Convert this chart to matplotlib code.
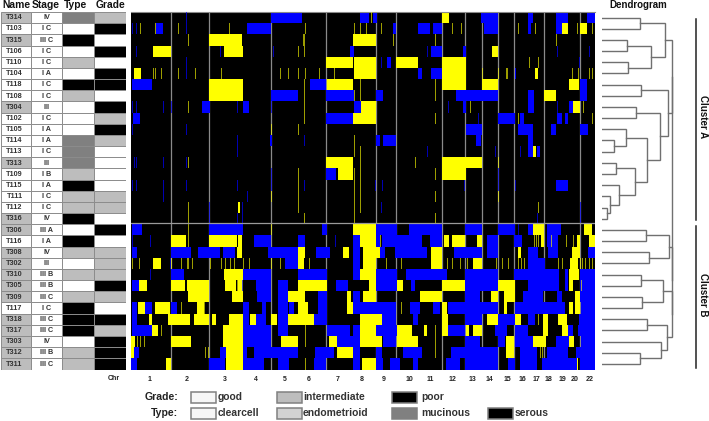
import matplotlib
matplotlib.use("Agg")
import matplotlib.pyplot as plt
from matplotlib.patches import Rectangle

plt.rcParams["font.family"] = ["Liberation Sans", "DejaVu Sans"]

W, H = 709, 421

NAMES = ["T314", "T103", "T315", "T106", "T110", "T104", "T118", "T108", "T304", "T102", "T105",
         "T114", "T113", "T313", "T109", "T115", "T111", "T112", "T316", "T306", "T116", "T308",
         "T302", "T310", "T305", "T309", "T117", "T318", "T317", "T303", "T312", "T311"]
STAGES = ["IV", "I C", "III C", "I C", "I C", "I A", "I C", "I C", "III", "I C", "I A",
          "I A", "I C", "III", "I B", "I A", "I C", "I C", "IV", "III A", "I A", "IV",
          "III", "III B", "III B", "III C", "I C", "III C", "III C", "IV", "III B", "III C"]
NAME_SHADED = ["T314", "T315", "T304", "T313", "T316", "T306", "T308", "T302", "T310", "T305",
               "T309", "T318", "T317", "T303", "T312", "T311"]
TYPES = ["mucinous", "clearcell", "serous", "clearcell", "endometrioid", "clearcell", "serous",
         "endometrioid", "clearcell", "clearcell", "clearcell", "mucinous", "mucinous", "mucinous",
         "endometrioid", "serous", "endometrioid", "endometrioid", "serous", "clearcell", "serous",
         "endometrioid", "clearcell", "endometrioid", "clearcell", "endometrioid", "serous", "serous",
         "serous", "clearcell", "endometrioid", "endometrioid"]
GRADES = ["intermediate", "poor", "good", "poor", "good", "poor", "poor", "good", "poor",
          "intermediate", "poor", "intermediate", "good", "good", "good", "good", "intermediate",
          "intermediate", "good", "poor", "good", "intermediate", "intermediate", "intermediate",
          "poor", "intermediate", "good", "poor", "intermediate", "poor", "poor", "poor"]

TYPE_COLORS = {"clearcell": "#ffffff", "endometrioid": "#bdbdbd", "mucinous": "#808080", "serous": "#000000"}
GRADE_COLORS = {"good": "#ffffff", "intermediate": "#bdbdbd", "poor": "#000000"}
TYPE_KEY_COLORS = {"clearcell": "#f6f6f6", "endometrioid": "#d2d2d2", "mucinous": "#808080", "serous": "#000000"}
GRADE_KEY_COLORS = {"good": "#f6f6f6", "intermediate": "#bdbdbd", "poor": "#000000"}

CHR_LABELS = ["1", "2", "3", "4", "5", "6", "7", "8", "9", "10", "11", "12", "13", "14", "15",
              "16", "17", "18", "19", "20", "22"]
CHR_POS = [18, 56, 94, 125, 154, 178, 207, 231, 253, 278, 299, 322, 341, 358, 376, 391, 405, 418, 431, 444, 459]
CHR_LINES = [40, 78, 140, 195, 245, 265, 311, 334, 351, 367, 383, 413, 449]

# genome segments per sample (start, end)
GAINS = [
    [(311, 318)],
    [(25, 25), (431, 437), (449, 456)],
    [(78, 111), (222, 245)],
    [(22, 40), (93, 112), (361, 367)],
    [(195, 222), (223, 245), (265, 287), (311, 335)],
    [(3, 10), (223, 245), (311, 335), (404, 407)],
    [(78, 112), (196, 222), (311, 335), (351, 367), (438, 448)],
    [(78, 112), (413, 425)],
    [(230, 245), (442, 449)],
    [(222, 245)],
    [],
    [],
    [(402, 405)],
    [(195, 222), (311, 351)],
    [(207, 222), (311, 335)],
    [],
    [],
    [(107, 109)],
    [],
    [(222, 245), (402, 413), (453, 461)],
    [(40, 55), (78, 106), (107, 111), (229, 245), (313, 318), (321, 334), (346, 351), (410, 413), (446, 449), (458, 464)],
    [(106, 111), (167, 174), (212, 218), (232, 249), (300, 311), (441, 449), (387, 390)],
    [(22, 30), (167, 173), (232, 245), (300, 311), (342, 351), (439, 447)],
    [(93, 112), (229, 245), (438, 448)],
    [(8, 16), (40, 54), (56, 78), (94, 105), (107, 112), (167, 196), (238, 245), (266, 272), (311, 334), (367, 384), (438, 442)],
    [(57, 78), (101, 112), (157, 174), (216, 220), (232, 245), (289, 311), (360, 367), (373, 384), (444, 449)],
    [(7, 14), (24, 39), (66, 73), (167, 177), (216, 222), (311, 316), (373, 376), (438, 442), (444, 449)],
    [(18, 21), (37, 59), (63, 78), (81, 85), (98, 112), (119, 125), (140, 146), (157, 183), (229, 251), (311, 317), (356, 367), (384, 390), (412, 417), (427, 436)],
    [(21, 27), (92, 112), (229, 245), (266, 281), (293, 296), (311, 317), (335, 338), (342, 351), (412, 417), (431, 437)],
    [(0, 4), (40, 60), (92, 112), (150, 167), (198, 206), (229, 251), (266, 287), (375, 383), (402, 415), (438, 443)],
    [(0, 3), (95, 112), (206, 222), (375, 383)],
    [(35, 40), (95, 112), (231, 245), (445, 447)],
]
LOSSES = [
    [(140, 171), (229, 238), (242, 246), (350, 367), (397, 402), (425, 437), (456, 464)],
    [(25, 32), (116, 140), (262, 265), (287, 299), (302, 311), (353, 367), (397, 400), (425, 431)],
    [],
    [(219, 223), (300, 311), (332, 335)],
    [(256, 260)],
    [(287, 291), (300, 311), (384, 385)],
    [(1, 21), (179, 195), (449, 456)],
    [(140, 167), (195, 223), (245, 252), (325, 367), (397, 403), (449, 456)],
    [(71, 79), (112, 118), (223, 230), (332, 335), (397, 403), (438, 442)],
    [(2, 9), (195, 222), (367, 384), (389, 393), (426, 431), (434, 437)],
    [(335, 351), (387, 402), (420, 425), (449, 457)],
    [(139, 141), (245, 249), (252, 265), (345, 350), (397, 402)],
    [(397, 402), (406, 409)],
    [],
    [(195, 205)],
    [(425, 437)],
    [],
    [],
    [],
    [(1, 11), (78, 112), (191, 196), (245, 266), (278, 311), (334, 351), (367, 384), (397, 402), (416, 430)],
    [(123, 140), (167, 174), (222, 229), (245, 249), (251, 291), (299, 311), (356, 367), (383, 391), (416, 427)],
    [(1, 6), (40, 60), (67, 89), (92, 104), (137, 167), (185, 199), (222, 229), (249, 254), (264, 296), (323, 351), (356, 367), (397, 407), (417, 427), (457, 464)],
    [(154, 167), (222, 229), (397, 414)],
    [(40, 53), (112, 140), (167, 196), (222, 229), (245, 266), (275, 316), (334, 367), (383, 428), (434, 437), (449, 464)],
    [(1, 8), (125, 140), (147, 157), (205, 217), (245, 266), (280, 284), (334, 367), (397, 428), (434, 437), (449, 464)],
    [(126, 140), (147, 157), (187, 196), (222, 229), (334, 349), (392, 412), (426, 431), (449, 464)],
    [(1, 6), (14, 21), (40, 46), (112, 118), (131, 135), (147, 157), (158, 163), (187, 196), (222, 245), (245, 265), (279, 289), (302, 309), (317, 367), (384, 434), (450, 464)],
    [(1, 6), (112, 118), (125, 135), (147, 157), (183, 196), (251, 265), (282, 287), (334, 351), (367, 384), (397, 404), (448, 464)],
    [(1, 21), (112, 140), (147, 157), (196, 219), (222, 229), (245, 266), (317, 334), (364, 376), (384, 397), (437, 442), (447, 464)],
    [(206, 222), (112, 140), (222, 229), (252, 265), (334, 349), (367, 374), (384, 402), (425, 438), (450, 464)],
    [(3, 8), (89, 95), (112, 116), (123, 167), (184, 203), (222, 229), (245, 251), (272, 291), (320, 367), (389, 406), (416, 437), (445, 464)],
    [(0, 6), (78, 94), (112, 133), (147, 158), (183, 195), (222, 229), (245, 252), (259, 269), (282, 287), (315, 329), (334, 367), (377, 384), (389, 406), (411, 446), (449, 464)],
]
THIN_GAINS = [
    [240],
    [9, 24, 47, 98, 174, 223, 229, 235, 250, 321, 330, 387, 404, 446, 461],
    [57, 172, 173, 262, 304, 425],
    [167, 173],
    [398, 407],
    [22, 24, 30, 47, 64, 90, 149, 157, 167, 174, 188, 203, 351, 367, 375, 376, 441, 447, 458, 461],
    [173, 229, 304],
    [173, 223, 229, 304],
    [57, 173, 339, 452],
    [173, 304, 387, 461],
    [140, 167],
    [223],
    [223, 229],
    [57, 229, 284, 367],
    [167, 223, 229, 304],
    [167, 223, 229],
    [140, 167, 223, 229, 304, 367],
    [57, 167, 223, 229, 407],
    [57, 173, 223, 304],
    [57, 140, 457],
    [57, 249, 313, 317, 407, 403, 405, 420, 435, 442],
    [304],
    [1, 8, 40, 50, 56, 57, 61, 79, 90, 94, 99, 103, 112, 118, 140, 149, 178, 255, 270, 316, 321, 329, 336, 365, 371, 377, 387, 390, 393, 427, 431, 449, 451, 454, 458, 461],
    [],
    [106, 450],
    [],
    [50, 73, 270],
    [407],
    [30, 174, 304],
    [6, 9, 13, 174, 304],
    [74, 77, 304, 409, 411],
    [174],
]
THIN_LOSSES = [
    [55],
    [1, 5, 55],
    [],
    [5, 89, 142, 296, 426, 458],
    [55, 250, 448],
    [55],
    [],
    [],
    [1, 5, 32, 40, 106, 140, 317, 426],
    [347],
    [1, 55],
    [106, 173],
    [106, 296, 364, 389],
    [3, 5, 32, 55],
    [140, 367],
    [1, 5, 32, 55, 106, 140, 173, 244, 251, 333, 367, 384],
    [32, 116],
    [78, 111, 250, 449],
    [78, 106, 111, 406, 449],
    [387],
    [1, 19, 204],
    [],
    [39],
    [19],
    [111],
    [],
    [],
    [],
    [],
    [],
    [],
    [],
]

# (node, child a, child b, height): leaves are row numbers, internal nodes are named
TREE = [
    ("a1", 0, 1, 38), ("a2", 2, 3, 25.5), ("a3", 4, 5, 26), ("a4", "a2", "a3", 49), ("a5", "a1", "a4", 63),
    ("a6", 6, 7, 39.5), ("a7", 8, 9, 34), ("a8", 11, 12, 12.5), ("a9", 10, "a8", 24), ("a10", 13, 14, 14),
    ("a11", 17, 18, 5.5), ("a12", 16, "a11", 8), ("a13", 15, "a12", 17), ("a14", "a10", "a13", 33),
    ("a15", "a9", "a14", 45), ("a16", "a7", "a15", 58), ("a17", "a6", "a16", 66), ("A", "a5", "a17", 70.5),
    ("b1", 19, 20, 44), ("b2", 21, 22, 47.5), ("b3", "b1", "b2", 67.5), ("b4", 23, 24, 39), ("b5", 25, 26, 40),
    ("b6", "b4", "b5", 61.5), ("b7", 27, 28, 45.5), ("b8", 30, 31, 38), ("b9", 29, "b8", 59), ("b10", "b7", "b9", 65.5),
    ("b11", "b6", "b10", 70), ("B", "b3", "b11", 70.5), ("root", "A", "B", 70.5),
]

LEGEND_GRADE = [("good", 191, 218), ("intermediate", 277, 303), ("poor", 392, 421)]
LEGEND_TYPE = [("clearcell", 191, 218), ("endometrioid", 277, 303), ("mucinous", 392, 421), ("serous", 488, 515)]


def axes_px(fig, x0, y0, x1, y1):
    return fig.add_axes([x0 / W, 1 - y1 / H, (x1 - x0) / W, (y1 - y0) / H])


def draw_table(ax):
    n = len(NAMES)
    ax.set_xlim(0, 126)
    ax.set_ylim(n, 0)
    ax.axis("off")
    cols = [(0.5, 30.5), (30.5, 62), (62, 94), (94, 126)]
    for i in range(n):
        fills = ["#bdbdbd" if NAMES[i] in NAME_SHADED else "#ffffff", "#ffffff",
                 TYPE_COLORS[TYPES[i]], GRADE_COLORS[GRADES[i]]]
        for (a, b), c in zip(cols, fills):
            ax.add_patch(Rectangle((a, i), b - a, 1, facecolor=c, edgecolor="#8c8c8c", linewidth=0.7))
        ax.text(14.5, i + 0.52, NAMES[i], ha="center", va="center", fontsize=5.2, fontweight="bold", color="#333333")
        ax.text(46.5, i + 0.52, STAGES[i], ha="center", va="center", fontsize=5.2, fontweight="bold", color="#333333")


def draw_heat(ax):
    n = len(NAMES)
    ax.set_facecolor("black")
    ax.set_xlim(0, 464.5)
    ax.set_ylim(n, 0)
    for x in CHR_LINES:
        ax.axvline(x, color="#8a8a8a", linewidth=0.9, zorder=1)
    for i in range(n):
        ax.broken_barh([(a, b - a) for a, b in GAINS[i]], (i, 1), facecolor="#ffff00", linewidth=0, zorder=2)
        ax.broken_barh([(a, b - a) for a, b in LOSSES[i]], (i, 1), facecolor="#0000ff", linewidth=0, zorder=2)
        ax.broken_barh([(x, 0.7) for x in THIN_GAINS[i]], (i, 1), facecolor="#ffff00", alpha=0.62, linewidth=0, zorder=3)
        ax.broken_barh([(x, 0.7) for x in THIN_LOSSES[i]], (i, 1), facecolor="#0000ff", alpha=0.7, linewidth=0, zorder=3)
    ax.axhline(19 - 0.15, color="#9a9a9a", linewidth=0.9, zorder=4)
    ax.set_xticks(CHR_POS, CHR_LABELS, fontsize=5, fontweight="bold", color="#222222")
    ax.tick_params(axis="x", length=0, pad=5)
    ax.set_yticks([])
    for s in ax.spines.values():
        s.set_visible(False)
    ax.spines["top"].set_visible(True)
    ax.spines["top"].set_color("#8a8a8a")
    ax.spines["top"].set_linewidth(0.8)


def draw_dendrogram(ax):
    n = len(NAMES)
    ax.set_xlim(0, 72)
    ax.set_ylim(n, 0)
    ax.axis("off")
    nodes = {i: (i + 0.5, 0) for i in range(n)}
    for name, a, b, h in TREE:
        ya, ha = nodes[a]
        yb, hb = nodes[b]
        ax.plot([ha, h, h, hb], [ya, ya, yb, yb], color="#707070", linewidth=1.0, solid_joinstyle="miter")
        nodes[name] = ((ya + yb) / 2, h)


def draw_overlay(ax):
    ax.set_xlim(0, W)
    ax.set_ylim(H, 0)
    ax.axis("off")
    ax.patch.set_alpha(0)
    for label, x in [("Name", 16), ("Stage", 46), ("Type", 76), ("Grade", 111)]:
        ax.text(x, 5.5, label, ha="center", va="center", fontsize=7.4, fontweight="bold", color="#111111")
    ax.text(638, 5.5, "Dendrogram", ha="center", va="center", fontsize=7, fontweight="bold", color="#111111")
    ax.text(114, 378, "Chr", ha="center", va="center", fontsize=5, fontweight="bold", color="#222222")

    ax.plot([696.3, 696.3], [19, 220], color="#222222", linewidth=1.1)
    ax.plot([696.3, 696.3], [225.7, 368], color="#222222", linewidth=1.1)
    ax.text(703.5, 117, "Cluster A", rotation=270, ha="center", va="center", fontsize=7, fontweight="bold", color="#111111")
    ax.text(703.5, 295, "Cluster B", rotation=270, ha="center", va="center", fontsize=7, fontweight="bold", color="#111111")

    for title, items, colors, y in [("Grade:", LEGEND_GRADE, GRADE_KEY_COLORS, 397.5),
                                    ("Type:", LEGEND_TYPE, TYPE_KEY_COLORS, 413.5)]:
        ax.text(178, y, title, ha="right", va="center", fontsize=7.6, fontweight="bold", color="#222222")
        for label, bx, lx in items:
            ax.add_patch(Rectangle((bx, y - 5.8), 25, 11.6, facecolor=colors[label], edgecolor="#808080", linewidth=1.1))
            ax.text(lx, y, label, ha="left", va="center", fontsize=7.4, fontweight="bold", color="#333333")


fig = plt.figure(figsize=(W / 100, H / 100), dpi=100)
draw_table(axes_px(fig, 0, 12, 126, 369.5))
draw_heat(axes_px(fig, 131, 12, 595.5, 369.5))
draw_dendrogram(axes_px(fig, 601.7, 12, 673.7, 369.5))
draw_overlay(fig.add_axes([0, 0, 1, 1], zorder=5))
fig.savefig("out.png", dpi=100)
